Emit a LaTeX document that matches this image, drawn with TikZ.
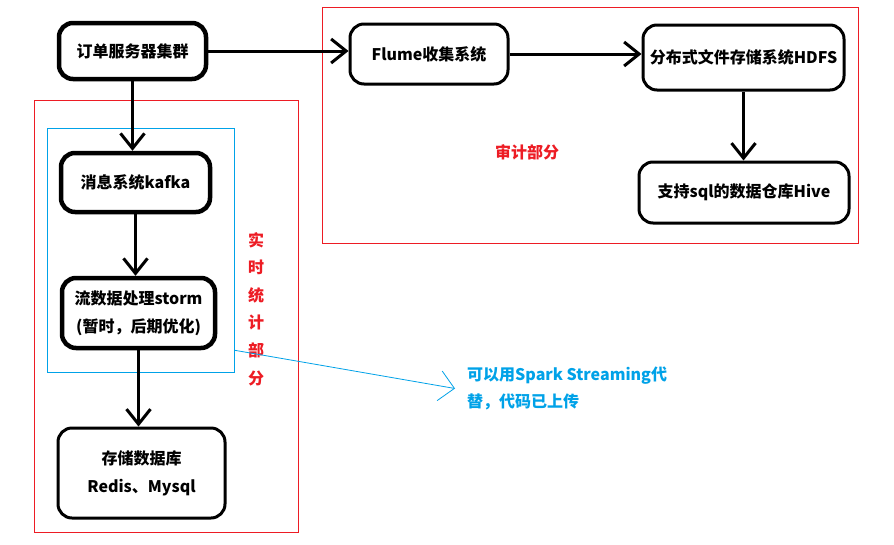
\documentclass[tikz,border=0pt]{standalone}
\usepackage{fontspec}
\setmainfont{Noto Sans CJK SC}
\usetikzlibrary{arrows.meta}
\definecolor{paintred}{RGB}{237,28,36}
\definecolor{paintblue}{RGB}{0,162,232}

\begin{document}
\begin{tikzpicture}[x=1pt,y=-1pt,font=\fontsize{16pt}{28pt}\selectfont\bfseries,
    box/.style={draw,line width=3pt,rounded corners=14pt,align=center,inner sep=0pt},
    heavy/.style={box,line width=4.5pt},
    flow/.style={line width=3pt,-{Straight Barb[length=15pt,width=24pt]}},
    part/.style={paintred,line width=1pt},
    hint/.style={paintblue,line width=0.8pt,-{Straight Barb[length=15pt,width=30pt]}}]
            \fill [white] (0,0) rectangle (894,544);
            \useasboundingbox (0,0) rectangle (894,544);
            % frames
            \draw [part] (322,7) rectangle (858,243);
            \draw [part] (34,100) rectangle (298,532);
            \node [draw,paintblue,line width=1pt,minimum width=187pt,minimum height=244pt] (stream) at (140.5,250) {};%
            % boxes
            \node [heavy,minimum width=147pt,minimum height=56pt] (order) at (132.5,51) {订单服务器集群};%
            \node [box,minimum width=158pt,minimum height=60pt] (flume) at (429,54) {Flume收集系统};%
            \node [box,minimum width=201pt,minimum height=65pt] (hdfs) at (743.5,57.5) {分布式文件存储系统HDFS};%
            \node [box,minimum width=210pt,minimum height=61pt] (hive) at (744,192.5) {支持sql的数据仓库Hive};%
            \node [heavy,minimum width=149pt,minimum height=59pt] (kafka) at (135.5,182.5) {消息系统kafka};%
            \node [heavy,minimum width=153pt,minimum height=70pt] (storm) at (138.5,313) {流数据处理storm\\(暂时，后期优化)};%
            \node [box,minimum width=167pt,minimum height=90pt] (store) at (141.5,473) {存储数据库\\Redis、Mysql};%
            % labels
            \node [paintred] (audit) at (527,152) {审计部分};%
            \node [paintred,align=center,font=\fontsize{16pt}{27.6pt}\selectfont\bfseries] (realtime) at (256,309) {实\\时\\统\\计\\部\\分};%
            \node [paintblue,align=left,anchor=west,inner sep=0pt,font=\fontsize{16pt}{27pt}\selectfont\bfseries] (note) at (467,388.5) {可以用Spark Streaming代\\替，代码已上传};%
            % connectors
            \draw [flow] (order.east) -- (order.east -| flume.west);
            \draw [flow] (flume.east) -- (flume.east -| hdfs.west);
            \draw [flow] (hdfs.south) -- (hdfs.south |- hive.north);
            \draw [flow] (order.south) -- (order.south |- kafka.north);
            \draw [flow] (kafka.south) -- (kafka.south |- storm.north);
            \draw [flow] (storm.south) -- (storm.south |- store.north);
            \draw [hint] (stream.east |- storm.south) -- ([xshift=-12pt]note.west);
        \end{tikzpicture}
\end{document}
